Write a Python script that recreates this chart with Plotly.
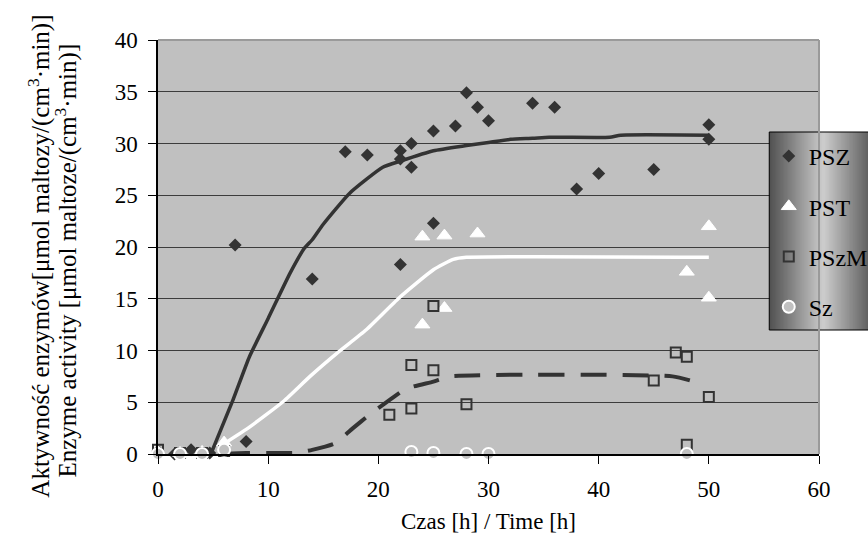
import numpy as np
import plotly.graph_objects as go

# ---------------- data ----------------
psz_x = [0, 1.5, 3, 4.7, 7, 8, 14, 17, 19, 22, 22, 22, 23, 23, 25, 25, 27, 28, 29, 30, 34, 36, 38, 40, 45, 50, 50]
psz_y = [0.3, 0.0, 0.4, 0.1, 20.2, 1.2, 16.9, 29.2, 28.9, 29.3, 28.5, 18.3, 30.0, 27.7, 31.2, 22.3, 31.7, 34.9, 33.5, 32.2, 33.9, 33.5, 25.6, 27.1, 27.5, 31.8, 30.4]

pst_x = [0, 2, 4, 6, 24, 24, 26, 26, 29, 48, 50, 50]
pst_y = [0.2, 0.1, 0.2, 1.1, 21.0, 12.5, 21.1, 14.1, 21.3, 17.6, 22.0, 15.1]

pszm_x = [0, 2, 4, 6, 21, 23, 23, 25, 25, 28, 45, 47, 48, 48, 50]
pszm_y = [0.4, 0.1, 0.1, 0.3, 3.8, 8.6, 4.4, 14.3, 8.1, 4.8, 7.1, 9.8, 9.4, 0.9, 5.5]

sz_x = [0, 2, 4, 6, 23, 25, 28, 30, 48]
sz_y = [0.0, 0.0, 0.0, 0.4, 0.2, 0.1, 0.0, 0.0, 0.0]

# fitted trend lines
psz_fit_x = [4.8, 6.8, 8.3, 10, 12, 13.3, 14, 15, 17.4, 20.4, 22, 25, 28, 30, 32, 34, 35.5, 41, 42, 50]
psz_fit_y = [0.0, 5.2, 9.4, 13.1, 17.5, 19.9, 20.7, 22.2, 25.2, 27.7, 28.3, 29.3, 29.8, 30.1, 30.4, 30.5, 30.6, 30.6, 30.8, 30.8]

pst_fit_x = [6, 8.3, 11.4, 13.8, 16.2, 18.9, 21.9, 25, 26.8, 28, 50]
pst_fit_y = [1.0, 2.6, 5.1, 7.5, 9.7, 12.0, 15.1, 17.8, 18.8, 19.0, 19.0]

pszm_fit_x = [6, 8, 10.5, 12.5, 14, 16, 17.7, 19.2, 21, 22.5, 25, 26.5, 46.7, 49]
pszm_fit_y = [0.0, 0.1, 0.1, 0.1, 0.4, 1.0, 2.5, 3.8, 5.2, 6.3, 7.0, 7.5, 7.5, 6.9]

x_ticks = [0, 10, 20, 30, 40, 50, 60]
y_ticks = [0, 5, 10, 15, 20, 25, 30, 35, 40]

x_title = "Czas [h] / Time [h]"
y_title_pl = "Aktywność enzymów[μmol maltozy/(cm<sup>3</sup>·min)]"
y_title_en = "Enzyme activity [μmol maltoze/(cm<sup>3</sup>·min)]"

# ---------------- figure ----------------
FONT = "Liberation Serif"
DARK = "#333333"

fig = go.Figure()

fig.add_trace(go.Scatter(x=psz_fit_x, y=psz_fit_y, mode="lines", showlegend=False,
                         line=dict(color=DARK, width=3.5, shape="spline", smoothing=0.5),
                         hoverinfo="skip"))
fig.add_trace(go.Scatter(x=pst_fit_x, y=pst_fit_y, mode="lines", showlegend=False,
                         line=dict(color="white", width=3.5, shape="spline", smoothing=0.5),
                         hoverinfo="skip"))
fig.add_trace(go.Scatter(x=pszm_fit_x, y=pszm_fit_y, mode="lines", showlegend=False,
                         line=dict(color=DARK, width=4, shape="spline", smoothing=0.5,
                                   dash="26px,16px"),
                         hoverinfo="skip"))

fig.add_trace(go.Scatter(x=psz_x, y=psz_y, mode="markers", name="PSZ", legendgroup="a",
                         cliponaxis=False,
                         marker=dict(symbol="diamond", size=10, color=DARK)))
fig.add_trace(go.Scatter(x=pst_x, y=pst_y, mode="markers", name="PST", legendgroup="b",
                         cliponaxis=False,
                         marker=dict(symbol="triangle-up", size=13, color="white",
                                     line=dict(color="white", width=1))))
fig.add_trace(go.Scatter(x=pszm_x, y=pszm_y, mode="markers", name="PSzM", legendgroup="c",
                         cliponaxis=False,
                         marker=dict(symbol="square-open", size=10, color=DARK,
                                     line=dict(color=DARK, width=2))))
fig.add_trace(go.Scatter(x=sz_x, y=sz_y, mode="markers", name="Sz", legendgroup="d",
                         cliponaxis=False,
                         marker=dict(symbol="circle", size=12, color="#c0c0c0",
                                     line=dict(color="white", width=2))))

# plot geometry (pixels)
W, H = 868, 536
L, R, T, B = 157.5, 868 - 819.3, 40, 82
pw = W - L - R
ph = H - T - B


def px_x(p):
    return (p - L) / pw


def px_y(p):
    return (H - B - p) / ph


shapes = []
# legend gradient background
x0p, x1p, xc = 769.5, 876, 824
n = 80
edges = np.linspace(x0p, x1p, n + 1)
for i in range(n):
    mid = 0.5 * (edges[i] + edges[i + 1])
    if mid < xc:
        t = (xc - mid) / (xc - x0p)
    else:
        t = (mid - xc) / (x1p - xc)
    g = int(round(205 - t * (205 - 80)))
    shapes.append(dict(type="rect", xref="paper", yref="paper",
                       x0=px_x(edges[i]), x1=px_x(edges[i + 1]) + 0.0015,
                       y0=px_y(330), y1=px_y(132),
                       fillcolor=f"rgb({g},{g},{g})", line=dict(width=0), layer="above"))
shapes.append(dict(type="rect", xref="paper", yref="paper",
                   x0=px_x(x0p), x1=px_x(x1p), y0=px_y(330), y1=px_y(132),
                   line=dict(color="black", width=1), fillcolor="rgba(0,0,0,0)", layer="above"))
# plot-area border (top and right, gray)
shapes.append(dict(type="line", xref="paper", yref="paper", x0=0, x1=1, y0=1, y1=1,
                   line=dict(color="#9a9a9a", width=2), layer="above"))
shapes.append(dict(type="line", xref="paper", yref="paper", x0=1, x1=1, y0=0, y1=1,
                   line=dict(color="#9a9a9a", width=2), layer="above"))

fig.update_layout(
    width=W, height=H,
    margin=dict(l=L, r=R, t=T, b=B, autoexpand=False),
    paper_bgcolor="white",
    plot_bgcolor="#c0c0c0",
    font=dict(family=FONT, size=23, color="black"),
    showlegend=True,
    legend=dict(x=px_x(769), y=px_y(134), xanchor="left", yanchor="top",
                bgcolor="rgba(0,0,0,0)", borderwidth=0,
                font=dict(family=FONT, size=24, color="black"),
                tracegroupgap=16, itemsizing="trace"),
    shapes=shapes,
    annotations=[
        dict(text=y_title_pl, xref="paper", yref="paper",
             x=px_x(38), y=px_y(256), xanchor="center", yanchor="middle",
             textangle=-90, showarrow=False,
             font=dict(family=FONT, size=25, color="black")),
        dict(text=y_title_en, xref="paper", yref="paper",
             x=px_x(65), y=px_y(261), xanchor="center", yanchor="middle",
             textangle=-90, showarrow=False,
             font=dict(family=FONT, size=25, color="black")),
    ],
    xaxis=dict(range=[0, 60], tickvals=x_ticks, ticktext=[str(v) for v in x_ticks],
               showgrid=False, zeroline=False, showline=True, linecolor="black", linewidth=1.5,
               ticks="outside", ticklen=8, tickcolor="black", tickwidth=1,
               ticklabelstandoff=6,
               title=dict(text=x_title, standoff=12, font=dict(family=FONT, size=23))),
    yaxis=dict(range=[0, 40], tickvals=y_ticks, ticktext=[str(v) for v in y_ticks],
               showgrid=True, gridcolor="#3c3c3c", gridwidth=1,
               zeroline=False, showline=True, linecolor="black", linewidth=1.5,
               ticks="outside", ticklen=8, tickcolor="black", tickwidth=1,
               ticklabelstandoff=6),
)

fig.write_html("out.html", config={"displayModeBar": False},
               post_script="document.body.style.margin='0px';")
